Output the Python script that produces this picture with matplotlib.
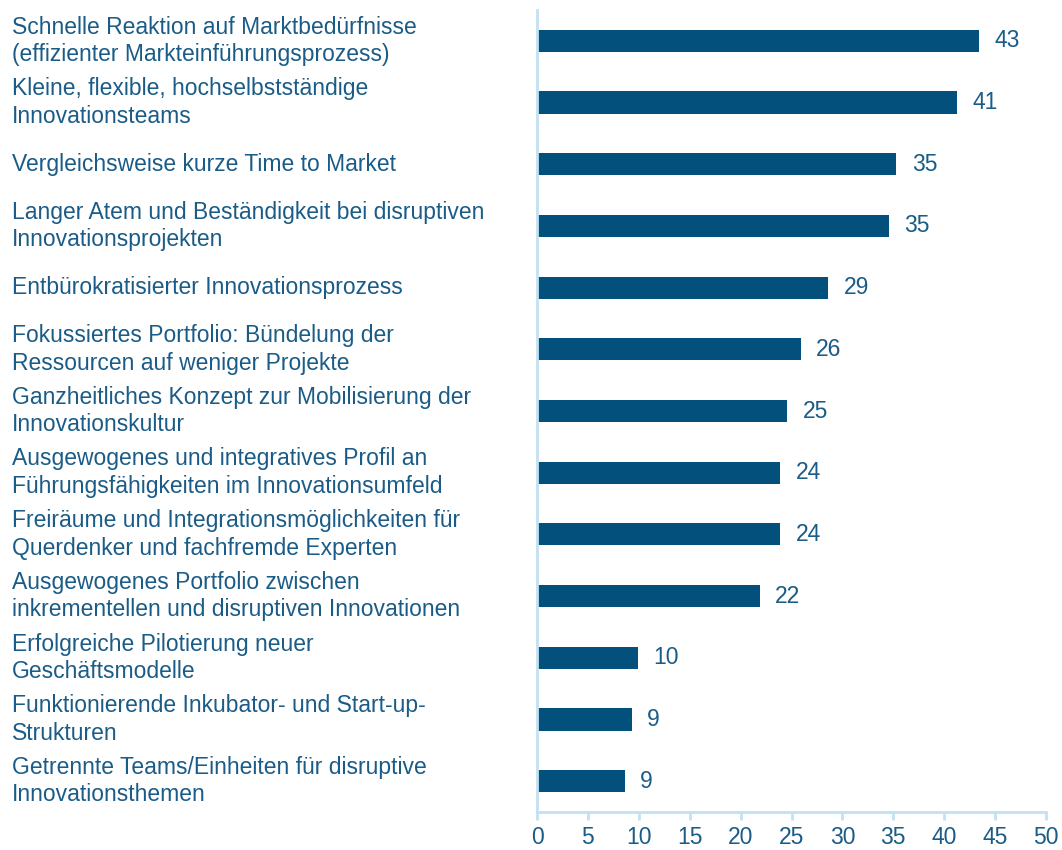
import matplotlib
matplotlib.use('Agg')
import matplotlib.pyplot as plt
from matplotlib.transforms import blended_transform_factory

# Daten (von oben nach unten)
labels = [
    'Schnelle Reaktion auf Marktbedürfnisse\n(effizienter Markteinführungsprozess)',
    'Kleine, flexible, hochselbstständige\nInnovationsteams',
    'Vergleichsweise kurze Time to Market',
    'Langer Atem und Beständigkeit bei disruptiven\nInnovationsprojekten',
    'Entbürokratisierter Innovationsprozess',
    'Fokussiertes Portfolio: Bündelung der\nRessourcen auf weniger Projekte',
    'Ganzheitliches Konzept zur Mobilisierung der\nInnovationskultur',
    'Ausgewogenes und integratives Profil an\nFührungsfähigkeiten im Innovationsumfeld',
    'Freiräume und Integrationsmöglichkeiten für\nQuerdenker und fachfremde Experten',
    'Ausgewogenes Portfolio zwischen\ninkrementellen und disruptiven Innovationen',
    'Erfolgreiche Pilotierung neuer\nGeschäftsmodelle',
    'Funktionierende Inkubator- und Start-up-\nStrukturen',
    'Getrennte Teams/Einheiten für disruptive\nInnovationsthemen',
]
values = [43, 41, 35, 35, 29, 26, 25, 24, 24, 22, 10, 9, 9]
bar_len = [43.4, 41.3, 35.3, 34.6, 28.6, 25.9, 24.6, 23.9, 23.9, 21.9, 9.9, 9.3, 8.6]
xticks = list(range(0, 51, 5))

bar_color = '#03507D'
text_color = '#1A5C87'
axis_color = '#C2E1F2'

plt.rcParams['font.family'] = ['Liberation Sans', 'DejaVu Sans']

fig = plt.figure(figsize=(10.62, 8.5), dpi=100)
ax = fig.add_axes([537 / 1062, 38 / 850, (1046 - 537) / 1062, (840 - 38) / 850])

ypos = list(range(len(values)))
ax.barh(ypos, bar_len, height=0.36, color=bar_color)
ax.set_ylim(len(values) - 0.5, -0.5)
ax.set_xlim(0, 50)

for y, l, v in zip(ypos, bar_len, values):
    ax.text(l + 1.5, y, str(v), va='center', ha='left', fontsize=16.5, color=text_color)

trans = blended_transform_factory(fig.transFigure, ax.transData)
for y, lab in zip(ypos, labels):
    ax.text(12 / 1062, y, lab, transform=trans, va='center', ha='left',
            fontsize=16.5, color=text_color, linespacing=1.25)

ax.set_yticks([])
ax.set_xticks(xticks)
ax.tick_params(axis='x', colors=axis_color, labelcolor=text_color, labelsize=16.5,
               length=6, width=2, direction='out', pad=4)
for s in ['top', 'right']:
    ax.spines[s].set_visible(False)
for s in ['left', 'bottom']:
    ax.spines[s].set_color(axis_color)
    ax.spines[s].set_linewidth(2)

fig.savefig('out.png', dpi=100)
